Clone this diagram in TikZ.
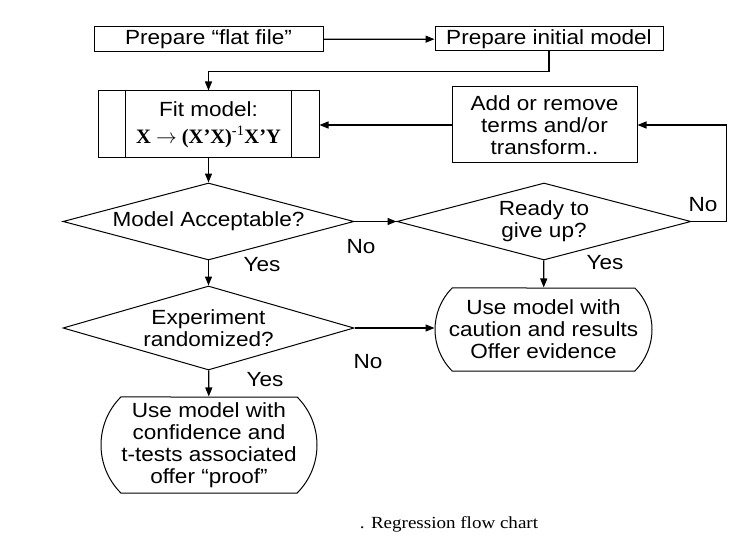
\documentclass[tikz,border=0pt]{standalone}
\usepackage{fontspec}
\setmainfont{Liberation Sans}[FakeStretch=1.1]
\newfontfamily\capfont{Liberation Serif}[FakeStretch=1.12]
\newfontfamily\formfont{Liberation Serif}
\usetikzlibrary{arrows.meta,shapes.geometric,shapes.misc}
\begin{document}
\begin{tikzpicture}[x=1pt,y=-1pt,
  every node/.style={font=\fontsize{20.5}{22}\selectfont, align=center, inner sep=0pt},
  box/.style={draw, line width=1pt, rectangle},
  dia/.style={draw, line width=1pt, diamond},
  term/.style={draw, line width=1pt, rounded rectangle, rounded rectangle arc length=90},
  arr/.style={line width=1.3pt, -{Triangle[length=9pt,width=7pt]}}]
\useasboundingbox (0,0) rectangle (744,548);
\node[box, minimum width=229pt, minimum height=25pt] (ff) at (208.5,39.5) {Prepare “flat file”};
\node[box, minimum width=228pt, minimum height=24pt] (im) at (549,39) {Prepare initial model};
\node[box, minimum width=221pt, minimum height=67pt] (fit) at (208.5,124.5) {Fit model:\\[5pt] {\formfont\bfseries X $\rightarrow$ (X’X)\textsuperscript{\mdseries -1}X’Y}};
\draw[line width=1pt] ([xshift=28pt]fit.north west) -- ([xshift=28pt]fit.south west);
\draw[line width=1pt] ([xshift=-28pt]fit.north east) -- ([xshift=-28pt]fit.south east);
\node[box, minimum width=185pt, minimum height=76pt] (add) at (544.5,125) {Add or remove\\terms and/or\\transform..};
\node[dia, shape aspect=3.78, minimum width=291pt, minimum height=77pt] (d1) at (208.5,221.5) {Model Acceptable?};
\node[dia, shape aspect=3.8, minimum width=294pt, minimum height=77pt] (d2) at (544,221.5) {Ready to\\give up?};
\node[dia, shape aspect=3.46, minimum width=291pt, minimum height=84pt] (d3) at (208.5,328) {Experiment\\randomized?};
\node[term, minimum width=217pt, minimum height=83pt] (cau) at (543.5,329.5) {Use model with\\caution and results\\Offer evidence};
\node[term, minimum width=216pt, minimum height=96pt] (conf) at (209,445) {Use model with\\confidence and\\t-tests associated\\offer “proof”};
\draw[arr] (ff) -- (im);
\draw[arr] (im.south) -- ++(0,20) -| (fit.north);
\draw[arr] (fit) -- (d1);
\draw[arr] (add.west) -- (add.west -| fit.east);
\draw[arr] (d1) -- (d2);
\draw[arr] (d2.east) -- ++(35,0) |- (add.east);
\draw[arr] (d1) -- (d3);
\draw[arr] (d2) -- (cau);
\draw[arr] (d3.east) -- (cau.west |- d3.east);
\draw[arr] (d3) -- (conf);
\node (l1) at (361,247) {No};
\node (l2) at (262,265) {Yes};
\node (l3) at (703,205) {No};
\node (l4) at (605,263) {Yes};
\node (l5) at (368,362) {No};
\node (l6) at (265,380) {Yes};
\node[font=\capfont\fontsize{17}{20}\selectfont] (cap) at (449,524) {. Regression flow chart};
\end{tikzpicture}
\end{document}
